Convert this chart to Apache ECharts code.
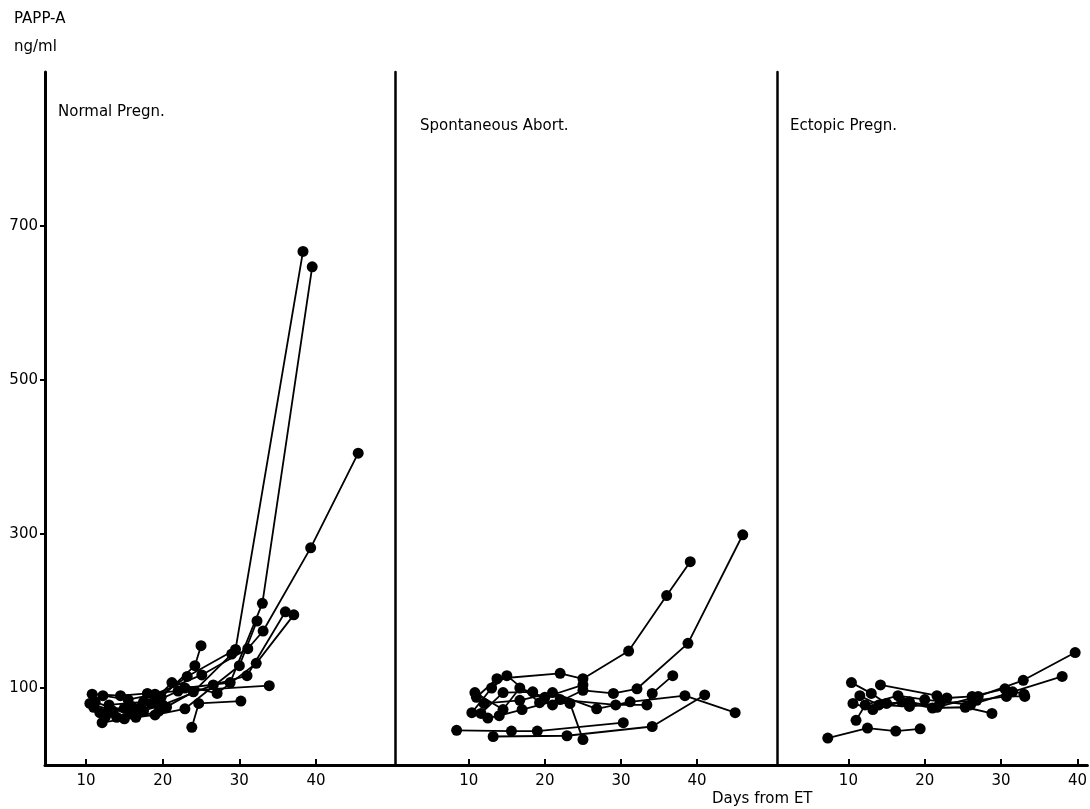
<!DOCTYPE html>
<html>
<head>
<meta charset="utf-8">
<script src="https://cdn.jsdelivr.net/npm/echarts@6/dist/echarts.min.js"></script>
<style>
  html, body { margin: 0; padding: 0; background: #fff; }
  #chart { width: 1090px; height: 809px; }
</style>
</head>
<body>
<div id="chart"></div>
<script>
"use strict";

// PAPP-A (ng/ml) against days from ET, one line per patient
const yTicks = [100, 300, 500, 700];
const xTicks = [10, 20, 30, 40];
const panelNames = ["Normal Pregn.", "Spontaneous Abort.", "Ectopic Pregn."];

const normalPregn = [
  [[10.5, 80], [13, 72], [16, 76], [19, 85], [23.2, 115], [29.5, 150], [38.3, 667]],
  [[11.8, 68], [15, 74], [18.5, 80], [22.9, 100], [28.8, 107], [33, 210], [39.5, 647]],
  [[12.2, 90], [15.5, 85], [19, 92], [25.1, 117], [31.1, 151], [33.1, 174], [39.3, 282], [45.5, 405]],
  [[11, 75], [14, 62], [17.5, 70], [21.2, 107], [27.1, 93], [32.2, 132], [37.1, 195]],
  [[12.5, 62], [16, 66], [20, 78], [26.6, 104], [31, 116], [36, 199]],
  [[10.8, 92], [14.5, 90], [18, 93], [22, 96], [33.9, 103]],
  [[12.1, 55], [15, 60], [19, 65], [22.9, 73], [30, 129], [32.3, 187]],
  [[23.8, 49], [24.7, 80], [30.2, 83]],
  [[13.5, 70], [17, 74], [19.8, 88], [24.2, 129], [25, 155]],
  [[11.2, 82], [16.5, 62], [19.5, 70], [24, 95], [29, 144]],
  [[13, 78], [17.5, 82], [20.5, 75]]
];

const spontAbort = [
  [[11, 88], [13.7, 112], [22, 119], [25, 112], [31, 148], [36, 220], [39.1, 264]],
  [[10.4, 68], [13, 100], [15, 116], [19.3, 81], [23.3, 80], [25, 33]],
  [[11.6, 67], [14.5, 94], [18.4, 95], [21, 78], [25, 97], [29, 93], [32.1, 99], [38.8, 158], [46, 299]],
  [[8.4, 45], [15.6, 44], [19, 44], [30.3, 55]],
  [[13.2, 37], [22.9, 38], [34.1, 50], [41, 91]],
  [[12, 80], [16.7, 84], [21, 94], [26.8, 73], [31.2, 82], [38.4, 90], [45, 68]],
  [[12.5, 61], [14, 64], [17, 72], [22, 85], [29.3, 78], [33.4, 78], [34.1, 93], [36.8, 116]],
  [[10.8, 94], [14.5, 72], [16.7, 100], [20, 88], [25, 104]]
];

const ectopicPregn = [
  [[7.3, 35], [12.5, 48], [16.2, 44], [19.4, 47]],
  [[10.4, 107], [13, 93], [15, 80], [18, 82], [21.6, 75], [27, 89], [32.9, 110], [39.7, 146]],
  [[11, 58], [12.2, 78], [16.5, 90], [20, 85], [26, 78], [31.5, 95], [38, 115]],
  [[14.2, 104], [21.6, 90], [22.9, 87], [26.2, 89], [30.5, 99], [33, 92]],
  [[10.6, 80], [13.2, 72], [17, 82], [21, 74], [25.3, 75], [28.8, 67]],
  [[11.5, 90], [14, 78], [18, 76], [22, 80], [26.8, 84], [30.7, 89], [33.1, 89]]
];

const panels = [normalPregn, spontAbort, ectopicPregn];

const font = "DejaVu Sans";
const chart = echarts.init(document.getElementById("chart"), null, { renderer: "canvas" });

const grids = [
  { left: 45, width: 350, top: 72, bottom: 44 },
  { left: 395, width: 382, top: 72, bottom: 44 },
  { left: 777, width: 313, top: 72, bottom: 44 }
];
const xRanges = [[4.65, 50.3], [0.3, 50.5], [0.65, 41.3]];

const xAxes = xRanges.map((r, i) => ({
  type: "value",
  gridIndex: i,
  min: r[0],
  max: r[1],
  axisLine: { show: true, lineStyle: { color: "#000", width: 3 } },
  axisTick: { show: true, inside: true, length: 6, customValues: xTicks, lineStyle: { color: "#000", width: 2 } },
  axisLabel: { customValues: xTicks, color: "#000", fontFamily: font, fontSize: 15, margin: 9 },
  splitLine: { show: false }
}));

const yAxes = [0, 1, 2].map((i) => ({
  type: "value",
  gridIndex: i,
  min: 0,
  max: 900,
  axisLine: { show: true, lineStyle: { color: "#000", width: i === 0 ? 3 : 2.5 } },
  axisTick: { show: i === 0, length: 5, customValues: yTicks, lineStyle: { color: "#000", width: 2 } },
  axisLabel: { show: i === 0, customValues: yTicks, color: "#000", fontFamily: font, fontSize: 15, margin: 7 },
  splitLine: { show: false }
}));

const series = [];
panels.forEach((cases, p) => {
  cases.forEach((pts) => {
    series.push({
      type: "line",
      xAxisIndex: p,
      yAxisIndex: p,
      data: pts,
      symbol: "circle",
      symbolSize: 11,
      showSymbol: true,
      lineStyle: { color: "#000", width: 1.8 },
      itemStyle: { color: "#000" },
      animation: false,
      silent: true
    });
  });
});

const textStyle = (t) => ({ text: t, fill: "#000", font: "15px " + font });

chart.setOption({
  backgroundColor: "#fff",
  animation: false,
  grid: grids,
  xAxis: xAxes,
  yAxis: yAxes,
  series: series,
  graphic: [
    { type: "text", left: 14, top: 12, style: textStyle("PAPP-A") },
    { type: "text", left: 14, top: 40, style: textStyle("ng/ml") },
    { type: "text", left: 58, top: 105, style: textStyle(panelNames[0]) },
    { type: "text", left: 420, top: 119, style: textStyle(panelNames[1]) },
    { type: "text", left: 790, top: 119, style: textStyle(panelNames[2]) },
    { type: "text", left: 712, top: 792, style: textStyle("Days from ET") }
  ]
});
</script>
</body>
</html>
